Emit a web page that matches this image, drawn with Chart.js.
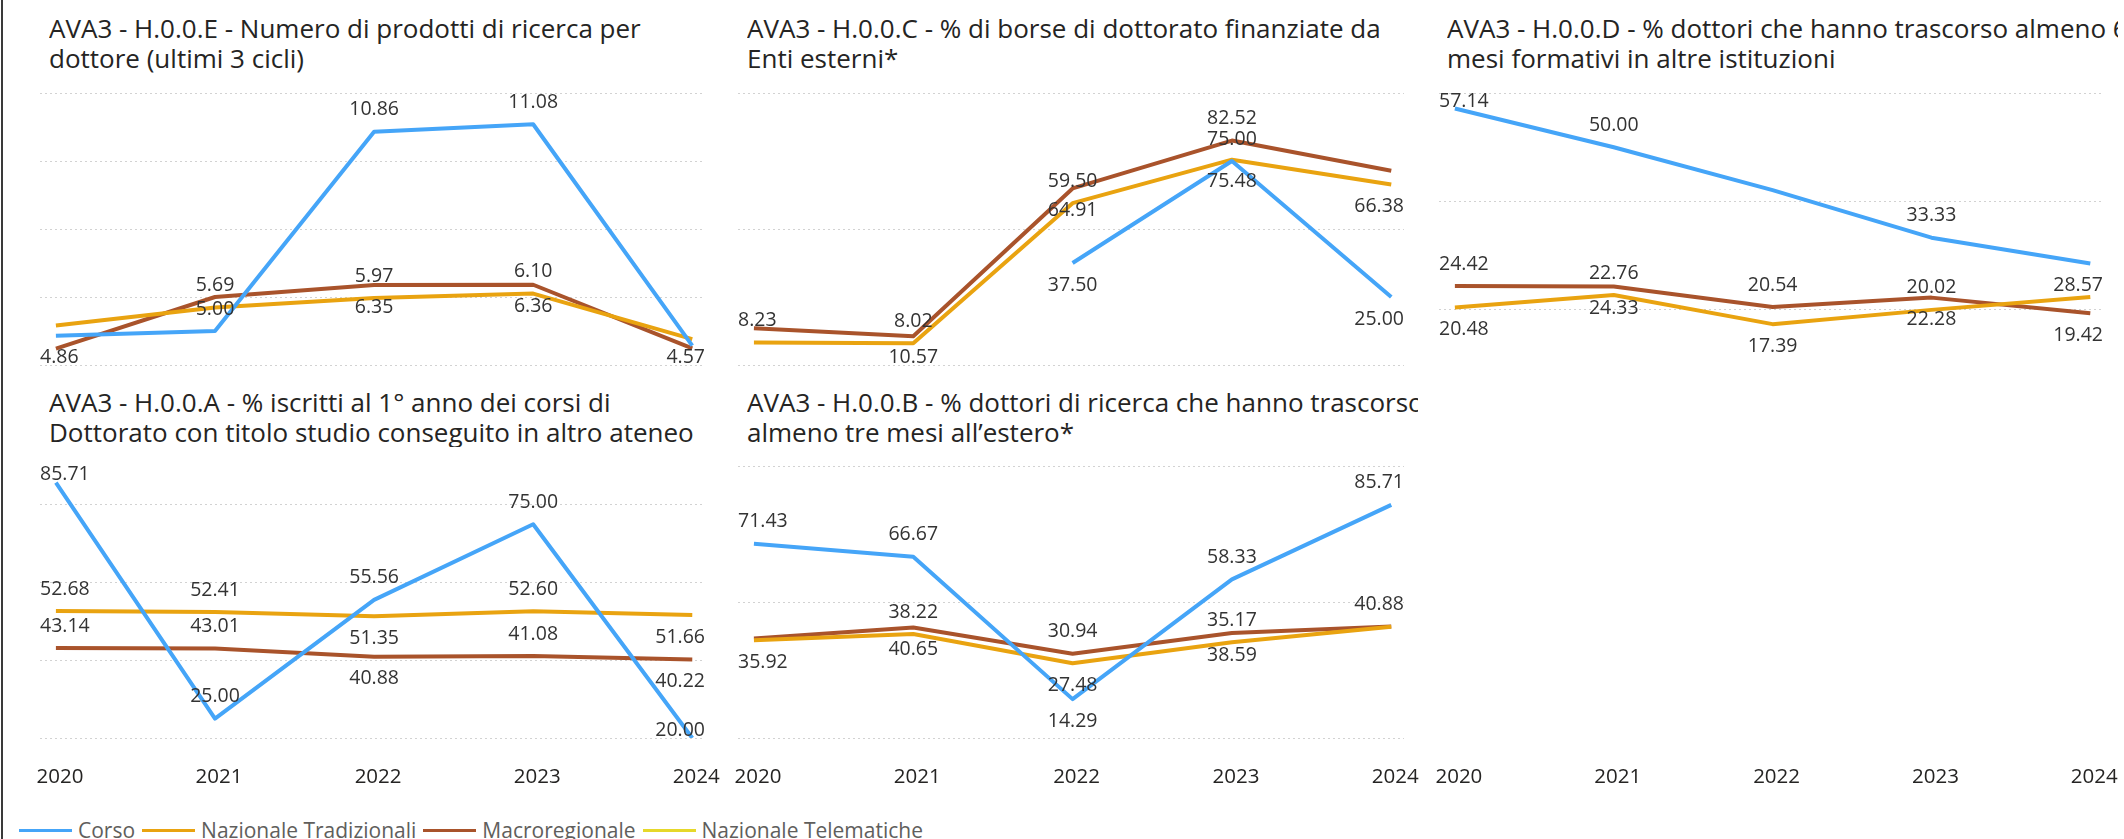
<!DOCTYPE html>
<html><head><meta charset="utf-8">
<script src="https://cdn.jsdelivr.net/npm/chart.js@4.4.1/dist/chart.umd.min.js"></script>
<style>
html,body{margin:0;padding:0;background:#fff;}
#root{position:relative;width:2124px;height:839px;overflow:hidden;background:#fff;font-family:'Segoe UI','Open Sans',sans-serif;}
.frame-l{position:absolute;left:1px;top:0;width:2px;height:839px;background:#3a3a3a;}
.title{position:absolute;color:#252423;font-size:26px;line-height:30px;white-space:nowrap;overflow:hidden;}
.title div{white-space:nowrap;}
canvas{position:absolute;}
#legend{position:absolute;left:19px;top:817px;display:flex;align-items:center;white-space:nowrap;font-size:21px;line-height:26px;color:#605e5c;}
#legend .it{display:flex;align-items:center;margin-right:7px;}
#legend .sw{width:53px;height:3px;margin-right:6px;}
</style></head>
<body><div id="root">
<div class="frame-l"></div>
<div class="title" style="left:49px;top:13px;width:680px"><div>AVA3 - H.0.0.E - Numero di prodotti di ricerca per</div><div>dottore (ultimi 3 cicli)</div></div>
<div class="title" style="left:747px;top:13px;width:680px"><div>AVA3 - H.0.0.C - % di borse di dottorato finanziate da</div><div>Enti esterni*</div></div>
<div class="title" style="left:1447px;top:13px;width:671px"><div>AVA3 - H.0.0.D - % dottori che hanno trascorso almeno 6</div><div>mesi formativi in altre istituzioni</div></div>
<div class="title" style="left:49px;top:387px;width:680px"><div>AVA3 - H.0.0.A - % iscritti al 1° anno dei corsi di</div><div>Dottorato con titolo studio conseguito in altro ateneo</div></div>
<div class="title" style="left:747px;top:387px;width:671px"><div>AVA3 - H.0.0.B - % dottori di ricerca che hanno trascorso</div><div>almeno tre mesi all’estero*</div></div>
<canvas id="cE" width="710" height="300" style="left:20px;top:80px"></canvas>
<canvas id="cC" width="710" height="300" style="left:720px;top:80px"></canvas>
<canvas id="cD" width="699" height="720" style="left:1425px;top:80px"></canvas>
<canvas id="cA" width="710" height="350" style="left:20px;top:450px"></canvas>
<canvas id="cB" width="710" height="350" style="left:720px;top:450px"></canvas>
<div id="legend"></div>
</div>
<script>
// ---- data ----
const years = ['2020', '2021', '2022', '2023', '2024'];
const seriesNames = ['Corso', 'Nazionale Tradizionali', 'Macroregionale', 'Nazionale Telematiche'];

// AVA3 - H.0.0.E
const e_corso   = [4.86, 5.00, 10.86, 11.08, 4.57];
const e_nazTrad = [5.16, 5.69, 5.97, 6.10, 4.76];
const e_macro   = [4.48, 6.00, 6.35, 6.36, 4.49];
const e_telem   = [null, null, null, null, null];
const e_grid    = [4, 6, 8, 10, 12];

// AVA3 - H.0.0.C
const c_corso   = [null, null, 37.50, 75.00, 25.00];
const c_nazTrad = [8.23, 8.02, 59.50, 75.48, 66.38];
const c_macro   = [13.5, 10.57, 64.91, 82.52, 71.4];
const c_telem   = [null, null, null, null, null];
const c_grid    = [0, 50, 100];

// AVA3 - H.0.0.D
const d_corso   = [57.14, 50.00, 42.1, 33.33, 28.57];
const d_nazTrad = [20.48, 22.76, 17.39, 20.02, 22.4];
const d_macro   = [24.42, 24.33, 20.54, 22.28, 19.42];
const d_telem   = [null, null, null, null, null];
const d_grid    = [20, 40, 60];

// AVA3 - H.0.0.A
const a_corso   = [85.71, 25.00, 55.56, 75.00, 20.00];
const a_nazTrad = [52.68, 52.41, 51.35, 52.60, 51.66];
const a_macro   = [43.14, 43.01, 40.88, 41.08, 40.22];
const a_telem   = [null, null, null, null, null];
const a_grid    = [20, 40, 60, 80];

// AVA3 - H.0.0.B
const b_corso   = [71.43, 66.67, 14.29, 58.33, 85.71];
const b_nazTrad = [35.92, 38.22, 27.48, 35.17, 40.88];
const b_macro   = [36.6, 40.65, 30.94, 38.59, 41.0];
const b_telem   = [null, null, null, null, null];
const b_grid    = [0, 50, 100];

// ---- styles ----
const seriesColors = ['#45A5F8', '#E9A310', '#A9532B', '#E6D82A'];
const FONT = "'Segoe UI', 'Open Sans', sans-serif";
// data-label placement ('a' above, 'b' below, '' hidden), per series
const e_place = [['b','a','a','a','b'], ['','a','a','a',''], ['','','b','b',''], []];
const c_place = [['','','b','a','b'], ['a','a','a','b','b'], ['','b','b','a',''], []];
const d_place = [['a','a','','a','b'], ['b','a','b','a',''], ['a','b','a','b','b'], []];
const a_place = [['a','a','a','a','b'], ['a','a','b','a','b'], ['a','a','b','a','b'], []];
const b_place = [['a','a','b','a','a'], ['b','a','b','a','a'], ['','b','a','b',''], []];

const labelPlugin = {
  id: 'pointLabels',
  afterDatasetsDraw(chart) {
    const ctx = chart.ctx, area = chart.chartArea;
    const OFF = 22, M = 8;
    ctx.save();
    ctx.font = '19.5px ' + FONT;
    ctx.fillStyle = '#333333';
    ctx.textAlign = 'center';
    ctx.textBaseline = 'middle';
    chart.data.datasets.forEach((ds, di) => {
      const meta = chart.getDatasetMeta(di);
      const pos = ds.labelPos || [];
      meta.data.forEach((pt, i) => {
        const v = ds.data[i].y;
        if (v === null || v === undefined || !pos[i]) return;
        const txt = v.toFixed(2);
        const w = ctx.measureText(txt).width;
        let y = pt.y + (pos[i] === 'a' ? -OFF : OFF);
        y = Math.max(area.top + M, Math.min(area.bottom - M, y));
        let x = Math.max(area.left + w / 2, Math.min(area.right - w / 2, pt.x));
        ctx.fillText(txt, x, y);
      });
    });
    ctx.restore();
  }
};

function makeChart(id, vals, place, grid, yMin, yMax, pad, showX) {
  const datasets = vals.map((arr, k) => ({
    label: seriesNames[k],
    data: arr.map((v, i) => ({ x: i, y: v })),
    labelPos: place[k],
    borderColor: seriesColors[k],
    backgroundColor: seriesColors[k],
    borderWidth: 4, pointRadius: 0, pointHoverRadius: 0,
    tension: 0, spanGaps: false, fill: false,
    borderJoinStyle: 'round', borderCapStyle: 'butt'
  }));
  return new Chart(document.getElementById(id), {
    type: 'line',
    data: { datasets },
    options: {
      responsive: false, animation: false, devicePixelRatio: 1,
      layout: { padding: pad },
      events: [],
      plugins: { legend: { display: false }, title: { display: false }, tooltip: { enabled: false } },
      scales: {
        x: {
          type: 'linear', min: -0.1, max: 4.08, display: showX,
          afterBuildTicks: s => { s.ticks = years.map((y, i) => ({ value: i })); },
          afterFit: s => { if (showX) { s.height = 52; } s.paddingLeft = 0; s.paddingRight = 0; },
          grid: { display: false, drawTicks: false }, border: { display: false },
          ticks: { callback: v => years[v], padding: 27, labelOffset: 4, autoSkip: false, maxRotation: 0,
                   color: '#252423', font: { family: FONT, size: 20.5 } }
        },
        y: {
          min: yMin, max: yMax,
          afterBuildTicks: s => { s.ticks = grid.map(v => ({ value: v })); },
          grid: { color: '#d2d2d2', lineWidth: 1, drawTicks: false },
          border: { display: false, dash: [2, 3] },
          ticks: { display: false }
        }
      }
    },
    plugins: [labelPlugin]
  });
}

makeChart('cE', [e_corso, e_nazTrad, e_macro, e_telem], e_place, e_grid, 4, 12, { left: 20, right: 25, top: 13, bottom: 15 }, false);
makeChart('cC', [c_corso, c_nazTrad, c_macro, c_telem], c_place, c_grid, 0, 100, { left: 18, right: 26, top: 13, bottom: 15 }, false);
makeChart('cD', [d_corso, d_nazTrad, d_macro, d_telem], d_place, d_grid, -58.9, 60, { left: 14, right: 21, top: 13, bottom: 10 }, true);
makeChart('cA', [a_corso, a_nazTrad, a_macro, a_telem], a_place, a_grid, 20, 90, { left: 20, right: 25, top: 16, bottom: 10 }, true);
makeChart('cB', [b_corso, b_nazTrad, b_macro, b_telem], b_place, b_grid, 0, 100, { left: 18, right: 26, top: 16, bottom: 10 }, true);

// legend
const lg = document.getElementById('legend');
seriesNames.forEach((n, k) => {
  const it = document.createElement('div'); it.className = 'it';
  const sw = document.createElement('div'); sw.className = 'sw'; sw.style.background = seriesColors[k];
  const tx = document.createElement('span'); tx.textContent = n;
  it.appendChild(sw); it.appendChild(tx); lg.appendChild(it);
});
</script>
</body></html>
